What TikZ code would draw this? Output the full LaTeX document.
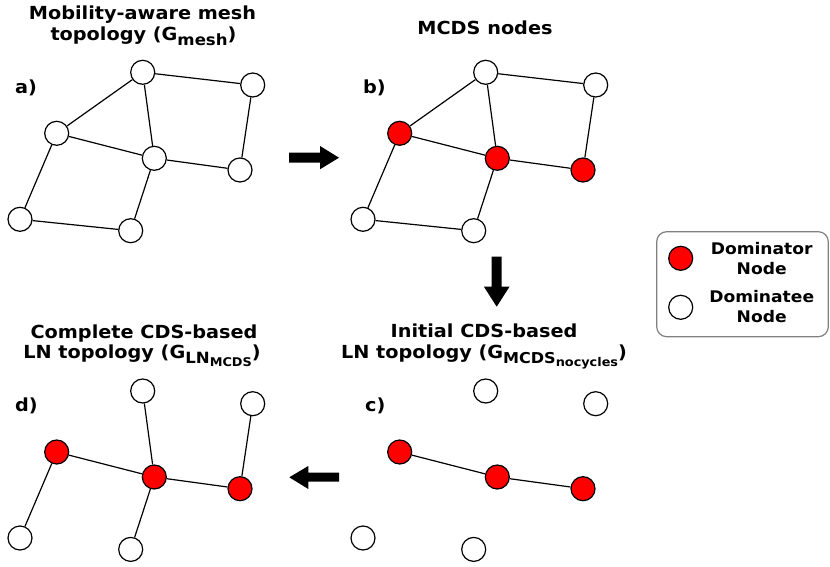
\documentclass[tikz,border=0pt]{standalone}
\usepackage{fontspec}
\setmainfont[FakeStretch=1.07]{DejaVu Sans}
\newcommand{\subone}[2]{\raisebox{-5pt}{\fontsize{#1}{#1}\selectfont #2}}
\newcommand{\subtwo}[2]{\raisebox{-3pt}{\fontsize{#1}{#1}\selectfont #2}}
\begin{document}
\begin{tikzpicture}[x=1pt,y=-1pt,
  vtx/.style={circle,draw=black,line width=1.2pt,minimum size=24pt,inner sep=0pt,fill=white},
  dom/.style={vtx,fill=red},
  edge/.style={line width=1.2pt,draw=black},
  ttl/.style={font=\fontsize{18}{20}\selectfont\bfseries,anchor=base,inner sep=0pt},
  plbl/.style={font=\fontsize{18}{20}\selectfont\bfseries,anchor=base west,inner sep=0pt},
  leg/.style={font=\fontsize{16}{20}\selectfont\bfseries,align=center,inner sep=0pt},
  legbox/.style={draw=black!50,line width=1.2pt,rounded corners=10pt},
  bigarrow/.style={fill=black,draw=none}
]
\useasboundingbox (0,0) rectangle (830,567);

% ---------- titles ----------
\node[ttl] (ta1) at (142.5,20) {Mobility-aware mesh};
\node[ttl] (ta2) at (143.5,41) {topology (G\subone{15.5}{mesh})};
\node[ttl] (tb1) at (485,35) {MCDS nodes};
\node[ttl] (td1) at (144,338) {Complete CDS-based};
\node[ttl] (td2) at (142,358) {LN topology (G\subone{15.5}{LN\subtwo{12}{MCDS}})};
\node[ttl] (tc1) at (484,337) {Initial CDS-based};
\node[ttl] (tc2) at (484,358) {LN topology (G\subone{15}{MCDS\subtwo{12}{nocycles}})};

% ---------- panel labels ----------
\node[plbl] (la) at (15,94) {a)};
\node[plbl] (lb) at (363,94) {b)};
\node[plbl] (lc) at (365,411.5) {c)};
\node[plbl] (ld) at (15,411) {d)};

% ---------- panel a ----------
\begin{scope}
\node[vtx] (a1) at (142.7,72.3) {};
\node[vtx] (a2) at (252.7,85) {};
\node[vtx] (a3) at (56.7,133.3) {};
\node[vtx] (a4) at (154.3,158.3) {};
\node[vtx] (a5) at (240,170) {};
\node[vtx] (a6) at (20,219.3) {};
\node[vtx] (a7) at (130.7,230.7) {};
\draw[edge] (a1)--(a2) (a1)--(a3) (a1)--(a4) (a3)--(a4) (a3)--(a6)
            (a4)--(a5) (a4)--(a7) (a2)--(a5) (a6)--(a7);
\end{scope}

% ---------- panel b ----------
\begin{scope}[shift={(343,0)}]
\node[vtx] (b1) at (142.7,72.3) {};
\node[vtx] (b2) at (252.7,85) {};
\node[dom] (b3) at (56.7,133.3) {};
\node[dom] (b4) at (154.3,158.3) {};
\node[dom] (b5) at (240,170) {};
\node[vtx] (b6) at (20,219.3) {};
\node[vtx] (b7) at (130.7,230.7) {};
\draw[edge] (b1)--(b2) (b1)--(b3) (b1)--(b4) (b3)--(b4) (b3)--(b6)
            (b4)--(b5) (b4)--(b7) (b2)--(b5) (b6)--(b7);
\end{scope}

% ---------- panel c ----------
\begin{scope}[shift={(343,318.7)}]
\node[vtx] (c1) at (142.7,72.3) {};
\node[vtx] (c2) at (252.7,85) {};
\node[dom] (c3) at (56.7,133.3) {};
\node[dom] (c4) at (154.3,158.3) {};
\node[dom] (c5) at (240,170) {};
\node[vtx] (c6) at (20,219.3) {};
\node[vtx] (c7) at (130.7,230.7) {};
\draw[edge] (c3)--(c4) (c4)--(c5);
\end{scope}

% ---------- panel d ----------
\begin{scope}[shift={(0,318.7)}]
\node[vtx] (d1) at (142.7,72.3) {};
\node[vtx] (d2) at (252.7,85) {};
\node[dom] (d3) at (56.7,133.3) {};
\node[dom] (d4) at (154.3,158.3) {};
\node[dom] (d5) at (240,170) {};
\node[vtx] (d6) at (20,219.3) {};
\node[vtx] (d7) at (130.7,230.7) {};
\draw[edge] (d1)--(d4) (d2)--(d5) (d3)--(d4) (d4)--(d5) (d3)--(d6) (d4)--(d7);
\end{scope}

% ---------- block arrows ----------
\fill[bigarrow] (289,152.7) -- (320,152.7) -- (320,146) -- (339,157.7) -- (320,169.3) -- (320,162.7) -- (289,162.7) -- cycle;
\fill[bigarrow] (491.7,256.7) -- (501.7,256.7) -- (501.7,286.7) -- (509.5,286.7) -- (496.7,306.7) -- (483.9,286.7) -- (491.7,286.7) -- cycle;
\fill[bigarrow] (339,472.7) -- (308.3,472.7) -- (308.3,466) -- (289.3,477.3) -- (308.3,489) -- (308.3,481.7) -- (339,481.7) -- cycle;

% ---------- legend ----------
\draw[legbox] (656.7,231.7) rectangle (828.3,336.7);
\node[dom] (ldom) at (680.7,258.3) {};
\node[vtx] (lvtx) at (680.7,307.3) {};
\node[leg] (tdom) at (761.7,259) {Dominator\\Node};
\node[leg] (tvtx) at (761.7,307) {Dominatee\\Node};
\end{tikzpicture}
\end{document}
